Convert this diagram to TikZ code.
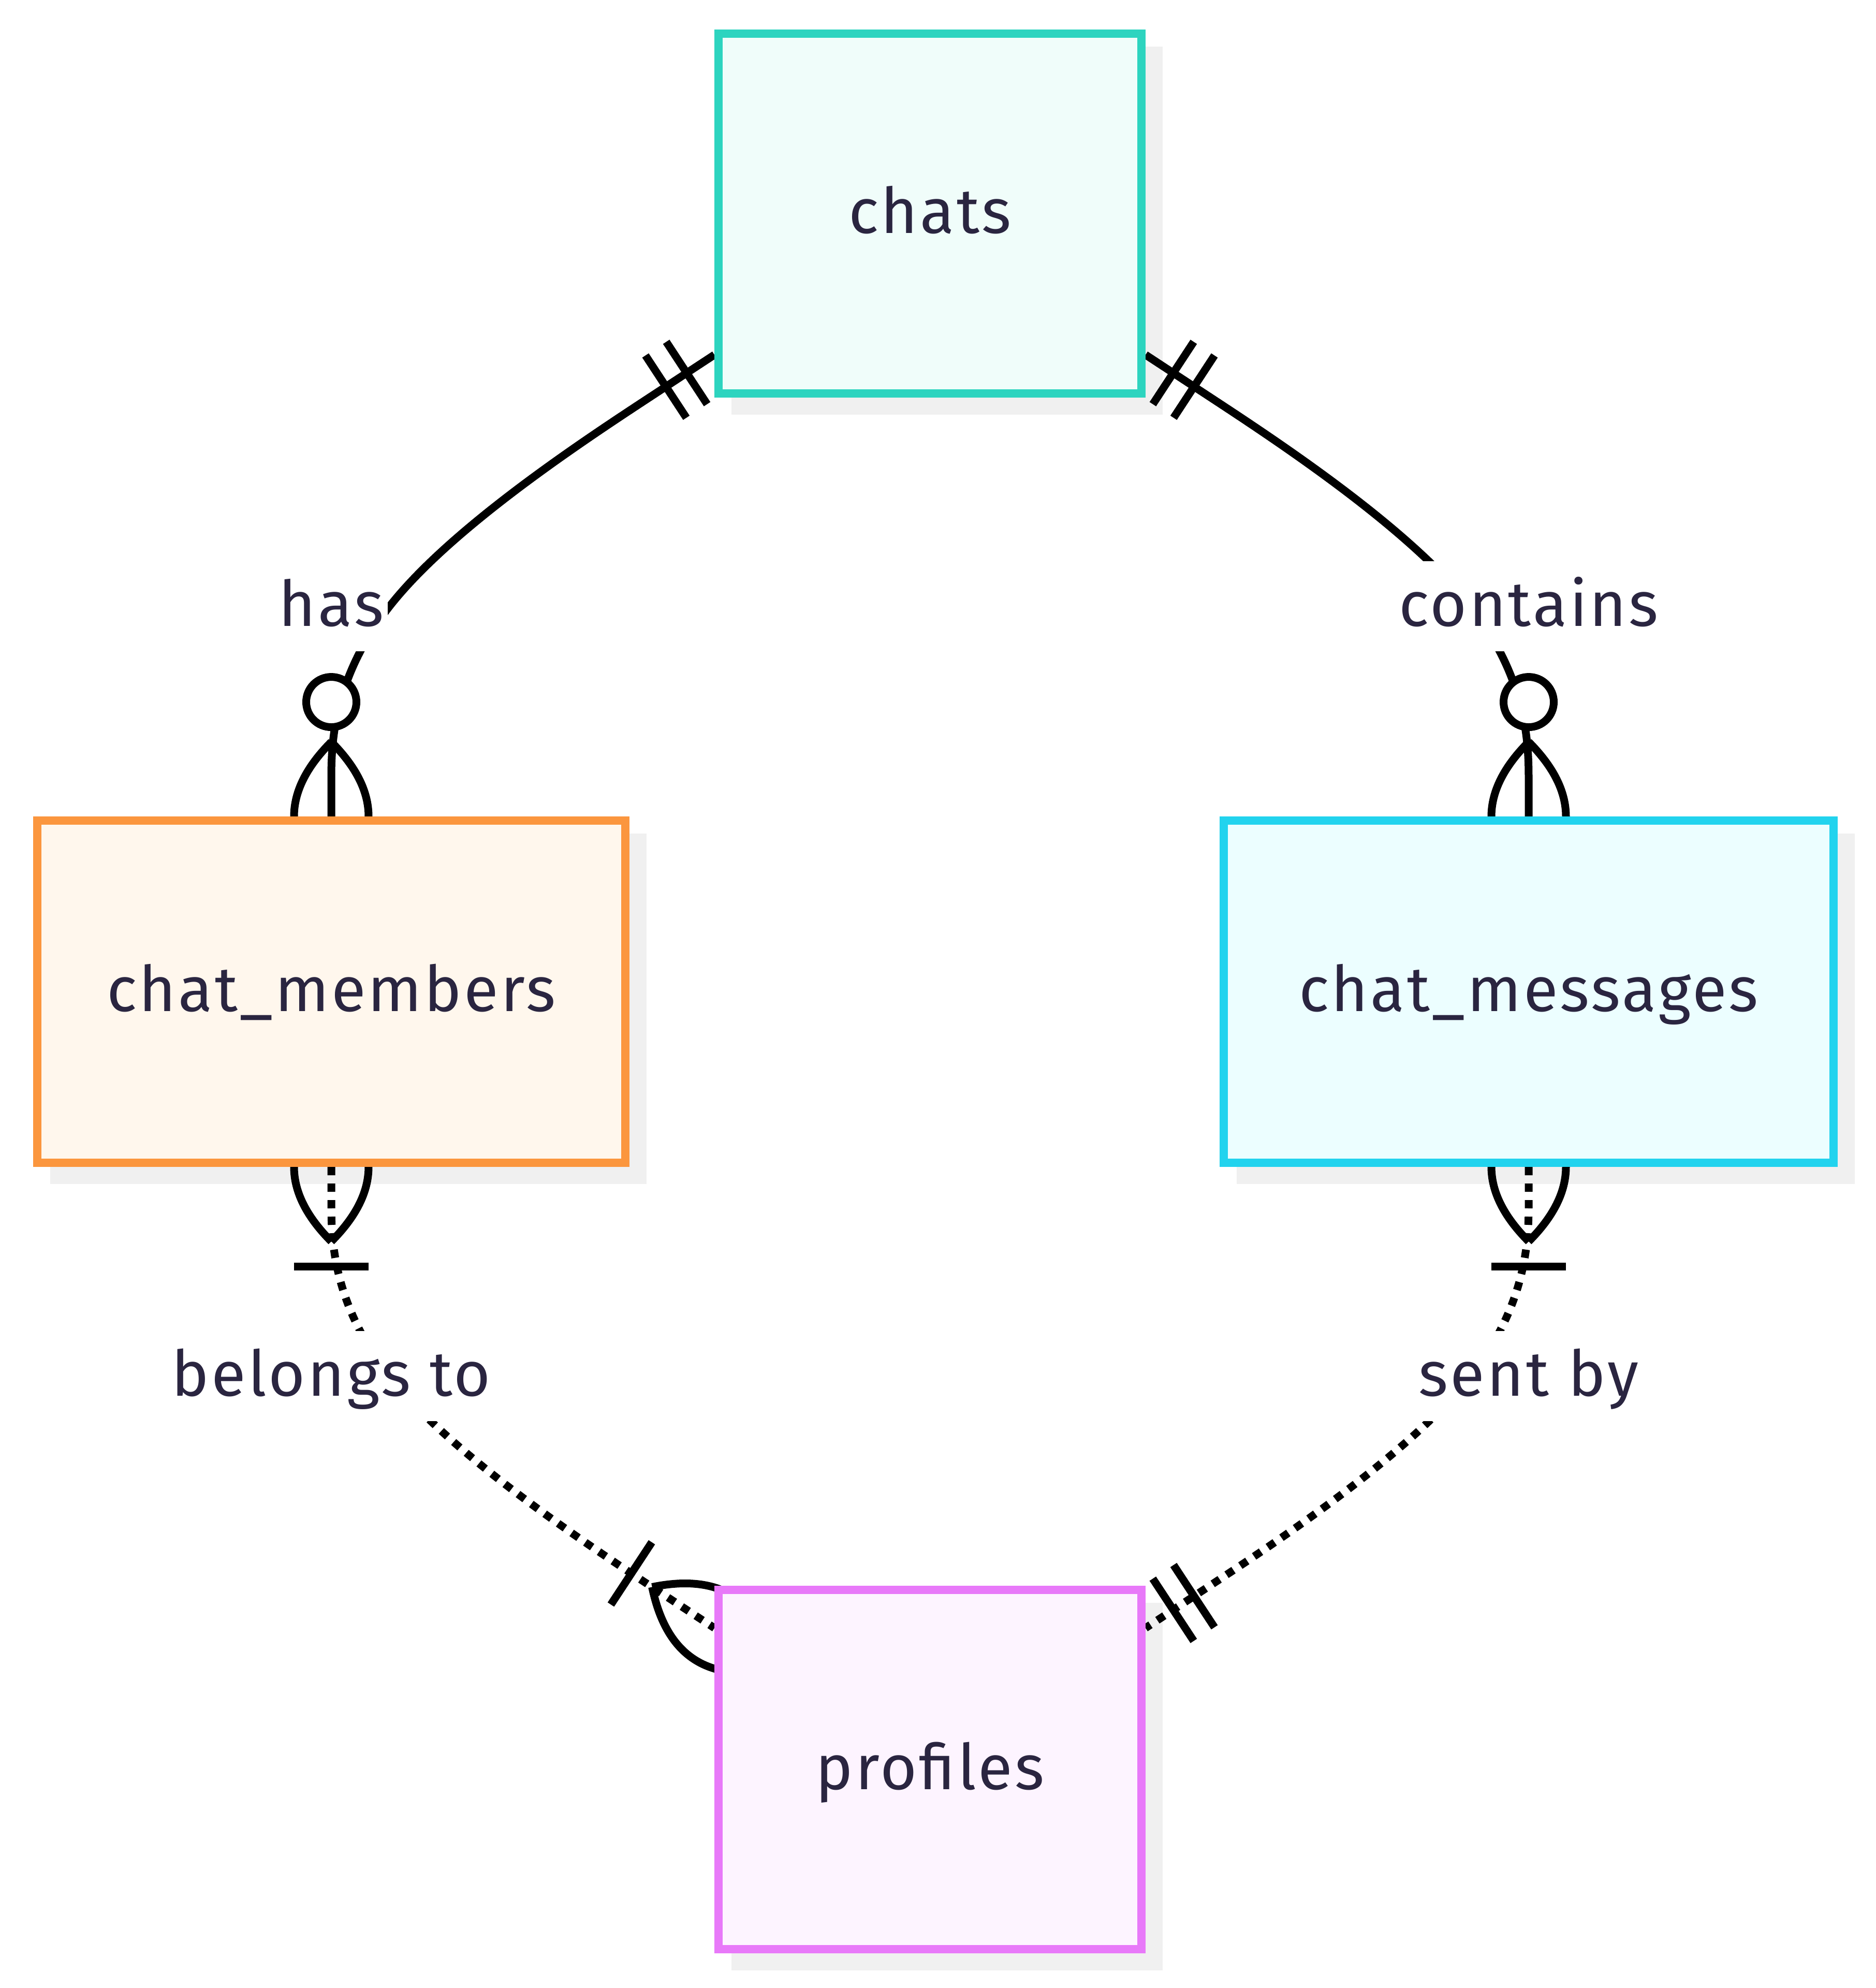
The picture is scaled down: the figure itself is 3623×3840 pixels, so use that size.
\documentclass[tikz,border=0pt]{standalone}
\usepackage{fontspec}
\setmainfont{Fira Sans}[LetterSpace=3.5]
\usetikzlibrary{calc}
\definecolor{txt}{HTML}{2A2540}
\definecolor{chatsB}{HTML}{2DD4BF}\definecolor{chatsF}{HTML}{F0FDFA}
\definecolor{memB}{HTML}{FB963E}\definecolor{memF}{HTML}{FFF7ED}
\definecolor{msgB}{HTML}{22D3EE}\definecolor{msgF}{HTML}{ECFEFF}
\definecolor{profB}{HTML}{E879F9}\definecolor{profF}{HTML}{FDF4FF}
\definecolor{shadowc}{HTML}{F0F0F0}
\pgfdeclarelayer{bgl}\pgfdeclarelayer{shadowl}\pgfdeclarelayer{edgel}
\pgfsetlayers{bgl,shadowl,edgel,main}
% basis spline through P0,P1,P2 (d3 curveBasis)
\newcommand\bsedge[4]{\draw[#1] (#2) -- ($(#2)!1/6!(#3)$)
  .. controls ($(#2)!1/3!(#3)$) and ($(#2)!2/3!(#3)$) .. ($0.1666667*(#2)+0.6666667*(#3)+0.1666667*(#4)$)
  .. controls ($(#3)!1/3!(#4)$) and ($(#3)!2/3!(#4)$) .. ($(#3)!5/6!(#4)$) -- (#4);}
% crow's foot lens centred on the end point #1, axis towards #2
\newcommand\crowlens[2]{\draw[mk] ($(#1)!14.4pt!(#2)$)
  .. controls ($(#1)!4.8pt!(#2)!9.6pt!90:(#2)$) and ($(#1)!4.8pt!180:(#2)!9.6pt!90:(#2)$) .. ($(#1)!14.4pt!180:(#2)$)
  .. controls ($(#1)!4.8pt!180:(#2)!9.6pt!-90:(#2)$) and ($(#1)!4.8pt!(#2)!9.6pt!-90:(#2)$) .. ($(#1)!14.4pt!(#2)$);}
\newcommand\crowbar[3]{\draw[mk] ($(#1)!#3!(#2)!7.2pt!90:(#2)$) -- ($(#1)!#3!(#2)!7.2pt!-90:(#2)$);}
\newcommand\crowcirc[2]{\draw[mk,fill=white] ($(#1)!22.1pt!(#2)$) circle[radius=4.85pt];}
\begin{document}
\begin{tikzpicture}[x=0.1pt,y=-0.1pt,
  entity/.style={draw,line width=1.6pt,text=txt,font=\fontsize{12.2pt}{14pt}\selectfont,
    text height=9pt,text depth=1.4pt,inner sep=0pt},
  lbl/.style={fill=white,text=txt,font=\fontsize{12.2pt}{14pt}\selectfont,
    text height=9pt,text depth=1.4pt,inner xsep=0.8pt,inner ysep=0pt,minimum height=17.4pt},
  rel/.style={line width=1.5pt},
  relnon/.style={line width=1.5pt,dash pattern=on 1.6pt off 1.6pt},
  mk/.style={line width=1.5pt,solid}]
\begin{pgfonlayer}{bgl}
  \fill[white] (0,0) rectangle (3623,3840);
\end{pgfonlayer}
\useasboundingbox (0,0) rectangle (3623,3840);
% entities
\node[entity,draw=chatsB,fill=chatsF,minimum width=81.7pt,minimum height=69.5pt] (chats) at (1796.5,412.5) {chats};
\node[entity,draw=memB,fill=memF,minimum width=113.6pt,minimum height=66.1pt] (cmem) at (640,1915.5) {chat\_members};
\node[entity,draw=msgB,fill=msgF,minimum width=117.8pt,minimum height=66.1pt] (cmsg) at (2953,1915.5) {chat\_messages};
\node[entity,draw=profB,fill=profF,minimum width=81.7pt,minimum height=69.4pt] (prof) at (1796.5,3418) {profiles};
% relationship labels
\node[lbl] (lhas) at (640,1171) {has};
\node[lbl] (lcon) at (2953,1171) {contains};
\node[lbl] (lbel) at (640,2658) {belongs to};
\node[lbl] (lsent) at (2953,2658) {sent by};
% shadows
\begin{pgfonlayer}{shadowl}
  \foreach \n in {chats,cmem,cmsg,prof}
    \fill[shadowc] ([shift={(33,33)}]\n.north west) rectangle ([shift={(33,33)}]\n.south east);
\end{pgfonlayer}
% end points on the entity borders
\path (chats) -- (lhas.center) coordinate[pos=0] (h0);
\path (cmem) -- (lhas.center) coordinate[pos=0] (h2);
\path (chats) -- (lcon.center) coordinate[pos=0] (c0);
\path (cmsg) -- (lcon.center) coordinate[pos=0] (c2);
\path (cmem) -- (lbel.center) coordinate[pos=0] (b0);
\path (prof) -- (lbel.center) coordinate[pos=0] (b2);
\path (cmsg) -- (lsent.center) coordinate[pos=0] (s0);
\path (prof) -- (lsent.center) coordinate[pos=0] (s2);
\begin{pgfonlayer}{edgel}
  % chats ||--o{ chat_members : has
  \bsedge{rel}{h0}{lhas.center}{h2}
  \crowbar{h0}{lhas.center}{6.4pt}\crowbar{h0}{lhas.center}{11.2pt}
  \crowlens{h2}{lhas.center}\crowcirc{h2}{lhas.center}
  % chats ||--o{ chat_messages : contains
  \bsedge{rel}{c0}{lcon.center}{c2}
  \crowbar{c0}{lcon.center}{6.4pt}\crowbar{c0}{lcon.center}{11.2pt}
  \crowlens{c2}{lcon.center}\crowcirc{c2}{lcon.center}
  % chat_members }|..|{ profiles : belongs to
  \bsedge{relnon}{b0}{lbel.center}{b2}
  \crowlens{b0}{lbel.center}\crowbar{b0}{lbel.center}{19.2pt}
  \crowlens{b2}{lbel.center}\crowbar{b2}{lbel.center}{19.2pt}
  % chat_messages }|..|| profiles : sent by
  \bsedge{relnon}{s0}{lsent.center}{s2}
  \crowlens{s0}{lsent.center}\crowbar{s0}{lsent.center}{19.2pt}
  \crowbar{s2}{lsent.center}{6.4pt}\crowbar{s2}{lsent.center}{11.2pt}
\end{pgfonlayer}
\end{tikzpicture}
\end{document}
